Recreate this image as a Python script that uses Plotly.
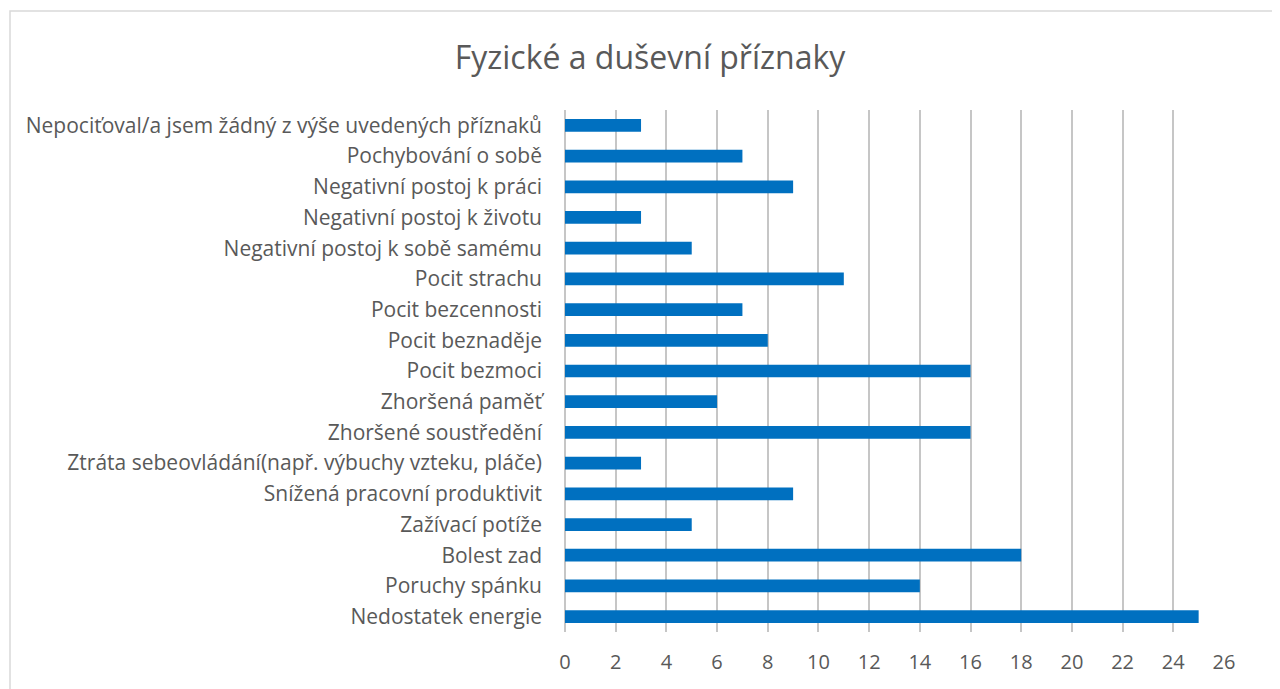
import plotly.graph_objects as go

categories = [
    "Nedostatek energie",
    "Poruchy spánku",
    "Bolest zad",
    "Zažívací potíže",
    "Snížená pracovní produktivit",
    "Ztráta sebeovládání(např. výbuchy vzteku, pláče)",
    "Zhoršené soustředění",
    "Zhoršená paměť",
    "Pocit bezmoci",
    "Pocit beznaděje",
    "Pocit bezcennosti",
    "Pocit strachu",
    "Negativní postoj k sobě samému",
    "Negativní postoj k životu",
    "Negativní postoj k práci",
    "Pochybování o sobě",
    "Nepociťoval/a jsem žádný z výše uvedených příznaků",
]
values = [25, 14, 18, 5, 9, 3, 16, 6, 16, 8, 7, 11, 5, 3, 9, 7, 3]
x_ticks = list(range(0, 27, 2))

FONT = "Open Sans"
TXT = "#595959"

# page has an 8px body margin; figure sized to fill the rest of the window
W, H = 1272, 681
OFF = 8
L, R, T, B = 565 - OFF, 1224 - OFF, 110 - OFF, 632 - OFF
PW, PH = R - L, B - T

fig = go.Figure(go.Bar(
    x=values, y=categories, orientation="h",
    marker=dict(color="#0070C0", line=dict(width=0)),
))

fig.update_layout(
    width=W, height=H,
    paper_bgcolor="white", plot_bgcolor="white",
    margin=dict(l=L, r=W - R, t=T, b=H - B, autoexpand=False),
    bargap=0.585,
    showlegend=False,
    title=dict(text="Fyzické a duševní příznaky", x=(650 - OFF) / W, xanchor="center",
               y=1 - (58 - OFF) / H, yanchor="middle",
               font=dict(family=FONT, size=32, color=TXT)),
    font=dict(family=FONT, size=20, color=TXT),
    xaxis=dict(range=[0, 26], tickvals=x_ticks, showgrid=True, gridcolor="#C6C6C6",
               gridwidth=1.6, zeroline=True, zerolinecolor="#C6C6C6", zerolinewidth=1.6,
               showline=False, ticks="", ticklabelstandoff=16,
               tickfont=dict(family=FONT, size=20, color=TXT), fixedrange=True),
    yaxis=dict(type="category", categoryorder="array", categoryarray=categories,
               showgrid=False, ticks="", ticklabelstandoff=22, showline=False,
               tickfont=dict(family=FONT, size=21, color=TXT), fixedrange=True),
    shapes=[dict(type="rect", xref="paper", yref="paper",
                 x0=(10 - 565) / PW, x1=(1300 - 565) / PW,
                 y0=-0.3, y1=(632 - 11) / PH,
                 line=dict(color="#D9D9D9", width=1.5), fillcolor="rgba(0,0,0,0)",
                 layer="below")],
)

fig.write_html("out.html")
